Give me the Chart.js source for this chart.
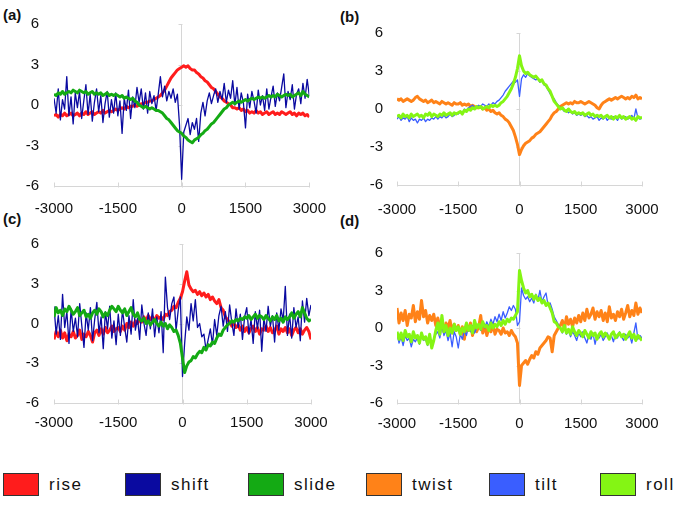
<!DOCTYPE html>
<html>
<head>
<meta charset="utf-8">
<script src="https://cdn.jsdelivr.net/npm/chart.js@4.4.0/dist/chart.umd.min.js"></script>
<style>
  body { margin: 0; background: #fff; width: 685px; height: 513px; position: relative; overflow: hidden; font-family: "Liberation Sans", Arial, sans-serif; }
  canvas { position: absolute; }
  .tag { position: absolute; font: bold 15px "Liberation Sans", Arial, sans-serif; color: #111; line-height: 18px; }
  .key { position: absolute; top: 473px; height: 23px; display: flex; align-items: center; }
  .key i { display: block; width: 34px; height: 21px; border: 1px solid #333; margin-right: 10px; }
  .key span { font-size: 17px; letter-spacing: 1.5px; color: #111; }
</style>
</head>
<body>
<div class="tag" style="left:3px;top:6px">(a)</div>
<div class="tag" style="left:340px;top:8px">(b)</div>
<div class="tag" style="left:3px;top:210px">(c)</div>
<div class="tag" style="left:340px;top:212px">(d)</div>
<canvas id="pa" width="340" height="220" style="left:0;top:0"></canvas>
<canvas id="pb" width="345" height="230" style="left:340px;top:0"></canvas>
<canvas id="pc" width="340" height="215" style="left:0;top:220px"></canvas>
<canvas id="pd" width="345" height="210" style="left:340px;top:230px"></canvas>
<div id="legend"></div>
<script>
// distance from centre, bp (step 50)
const positions = [];
for (let p = -3000; p <= 3000; p += 50) positions.push(p);
const xTicks = [-3000, -1500, 0, 1500, 3000];
const yTicks = [-6, -3, 0, 3, 6];

// panel (a)
const riseA = [
  -0.8, -0.7, -0.9, -0.7, -0.8, -0.6, -0.8, -0.7, -0.6, -0.8,
  -0.7, -0.6, -0.8, -0.6, -0.7, -0.5, -0.7, -0.6, -0.5, -0.7,
  -0.6, -0.5, -0.6, -0.4, -0.6, -0.5, -0.4, -0.5, -0.4, -0.3,
  -0.4, -0.3, -0.2, -0.3, -0.1, -0.2, -0.1, -0.1, 0.0, -0.1,
  0.0, 0.1, 0.1, 0.2, 0.2, 0.3, 0.3, 0.4, 0.5, 0.6,
  0.7, 0.9, 1.1, 1.4, 1.7, 2.0, 2.2, 2.4, 2.6, 2.7,
  2.8, 2.9, 2.8, 2.9, 2.7, 2.6, 2.6, 2.4, 2.3, 2.1,
  2.0, 1.8, 1.7, 1.5, 1.3, 1.2, 1.0, 0.8, 0.6, 0.5,
  0.3, 0.2, 0.1, 0.0, -0.2, -0.2, -0.3, -0.2, -0.4, -0.3,
  -0.5, -0.4, -0.6, -0.5, -0.6, -0.4, -0.6, -0.5, -0.7, -0.6,
  -0.5, -0.7, -0.6, -0.5, -0.7, -0.6, -0.7, -0.5, -0.6, -0.7,
  -0.6, -0.5, -0.7, -0.6, -0.8, -0.6, -0.7, -0.6, -0.8, -0.7,
  -0.9
];
const shiftA = [
  0.5, -0.6, 1.2, -1.1, 0.4, -0.3, 2.1, -0.8, 0.6, -1.4,
  0.9, -0.2, 1.0, -1.0, 0.3, 1.5, -0.7, 0.8, -1.2, 0.2,
  1.2, -0.5, 0.7, -1.3, 0.1, 1.0, -0.9, 0.4, -0.6, 0.9,
  -0.8, 0.3, -2.1, 0.5, -0.4, 1.1, -1.0, 0.6, -0.2, 1.3,
  0.2, 1.2, -0.3, 0.9, -0.6, 1.0, 0.1, 0.7, -0.4, 0.8,
  2.1, 0.6, 1.4, 0.3, 1.0, 0.5, 1.2, 0.2, 0.8, -1.5,
  -5.5, -2.0, -1.5, -1.0, -2.2, -1.3, -1.8, -1.0, -2.7, -0.6,
  0.2, -0.8, 0.3, 0.9, 0.1, 0.7, 1.2, 0.2, 1.0, 0.4,
  1.6, 0.2, 1.1, 0.5, 1.8, 0.0, 1.3, -0.3, 0.9, 0.2,
  -1.7, 0.8, -0.2, 1.0, 0.3, -0.6, 1.1, 0.0, 0.7, -0.4,
  1.2, -0.3, 0.6, 1.4, -0.1, 0.9, 0.3, 1.3, 2.3, -0.2,
  1.0, 0.4, 1.5, -0.3, 0.8, 1.2, 0.1, 1.6, 0.5, 1.9,
  0.7
];
const slideA = [
  0.8, 0.7, 0.9, 0.8, 1.0, 0.8, 0.9, 1.0, 0.9, 1.1,
  1.0, 0.9, 1.1, 1.0, 0.9, 1.0, 0.8, 0.9, 1.0, 0.8,
  0.9, 0.8, 0.9, 0.7, 0.8, 0.9, 0.7, 0.8, 0.7, 0.8,
  0.7, 0.6, 0.7, 0.5, 0.6, 0.5, 0.4, 0.5, 0.3, 0.2,
  0.0, -0.1, -0.2, -0.1, -0.2, -0.3, -0.2, -0.3, -0.4, -0.4,
  -0.5, -0.6, -0.8, -1.0, -1.1, -1.3, -1.5, -1.7, -1.9, -2.0,
  -2.1, -2.3, -2.4, -2.6, -2.7, -2.8, -2.6, -2.5, -2.4, -2.2,
  -2.1, -1.9, -1.8, -1.6, -1.4, -1.3, -1.1, -0.9, -0.7, -0.5,
  -0.3, -0.2, 0.0, 0.1, 0.2, 0.1, 0.2, 0.3, 0.2, 0.3,
  0.4, 0.3, 0.4, 0.5, 0.4, 0.5, 0.6, 0.5, 0.6, 0.5,
  0.6, 0.7, 0.6, 0.7, 0.6, 0.8, 0.7, 0.6, 0.7, 0.8,
  0.7, 0.8, 0.6, 0.7, 0.8, 0.9, 0.7, 1.0, 0.8, 0.7,
  0.6
];

// panel (b)
const twistB = [
  0.8, 0.7, 0.8, 0.6, 0.7, 0.8, 0.7, 0.6, 0.7, 0.9,
  1.0, 0.8, 0.7, 0.6, 0.7, 0.5, 0.6, 0.7, 0.5, 0.6,
  0.5, 0.4, 0.6, 0.5, 0.4, 0.5, 0.4, 0.3, 0.5, 0.4,
  0.4, 0.5, 0.3, 0.4, 0.3, 0.4, 0.2, 0.3, 0.2, 0.1,
  0.1, 0.2, 0.0, 0.1, -0.1, 0.0, -0.2, -0.1, -0.3, -0.4,
  -0.3, -0.5, -0.6, -0.8, -0.9, -1.1, -1.4, -1.7, -2.2, -2.8,
  -3.6, -3.2, -2.9, -2.7, -2.6, -2.5, -2.3, -2.2, -2.0, -1.9,
  -1.8, -1.6, -1.4, -1.2, -1.0, -0.8, -0.5, -0.3, -0.2, 0.0,
  0.2, 0.3, 0.4, 0.5, 0.4, 0.5, 0.4, 0.6, 0.5, 0.5,
  0.6, 0.5, 0.4, 0.5, 0.6, 0.5, 0.4, 0.3, 0.1, 0.0,
  0.3, 0.5, 0.6, 0.7, 0.8, 0.7, 0.8, 0.9, 0.8, 0.9,
  1.0, 0.9, 0.8, 0.9, 0.8, 1.0, 0.9, 1.1, 0.8, 0.9,
  0.8
];
const tiltB = [
  -0.8, -0.6, -0.9, -0.7, -0.8, -0.6, -1.0, -0.7, -0.9, -0.8,
  -1.1, -0.8, -0.9, -0.7, -1.0, -0.8, -0.9, -0.7, -0.8, -0.6,
  -0.8, -0.6, -0.7, -0.5, -0.7, -0.6, -0.4, -0.6, -0.5, -0.3,
  -0.4, -0.2, -0.3, 0.0, -0.1, 0.1, 0.2, 0.3, 0.1, 0.2,
  0.3, 0.2, 0.4, 0.3, 0.2, 0.4, 0.3, 0.5, 0.4, 0.6,
  0.7, 0.9, 1.1, 1.4, 1.6, 1.8, 2.0, 2.2, 2.1, 2.3,
  1.0, 2.4, 2.7, 2.5, 2.8, 2.6, 2.5, 2.4, 2.3, 2.4,
  2.1, 2.3, 1.9, 1.8, 1.5, 1.2, 1.0, 0.8, 0.5, 0.3,
  0.1, 0.0, -0.2, -0.1, -0.3, -0.2, -0.4, -0.3, -0.5, -0.4,
  -0.5, -0.4, -0.6, -0.5, -0.7, -0.6, -0.8, -0.7, -0.6, -0.9,
  -0.7, -0.8, -0.6, -0.9, -0.7, -0.8, -0.6, -0.7, -0.9, -0.6,
  -0.8, -0.7, -0.6, -0.8, -0.7, -0.5, -0.8, 0.0, -0.7, -0.8,
  -0.7
];
const rollB = [
  -0.6, -0.5, -0.7, -0.4, -0.6, -0.5, -0.7, -0.4, -0.6, -0.5,
  -0.4, -0.6, -0.5, -0.7, -0.4, -0.5, -0.3, -0.6, -0.4, -0.5,
  -0.6, -0.4, -0.5, -0.3, -0.5, -0.4, -0.3, -0.5, -0.3, -0.4,
  -0.3, -0.2, -0.4, -0.1, -0.2, 0.0, -0.1, 0.1, 0.0, 0.2,
  0.1, 0.2, 0.0, 0.1, 0.2, 0.1, 0.3, 0.2, 0.3, 0.2,
  0.3, 0.5, 0.6, 0.8, 1.0, 1.3, 1.6, 2.0, 2.5, 3.2,
  4.2, 3.4, 3.0, 2.8, 2.9, 2.7, 2.6, 2.5, 2.6, 2.4,
  2.2, 2.3, 2.0, 1.9, 1.6, 1.4, 1.0, 0.6, 0.4, 0.2,
  0.0, 0.1, -0.1, -0.2, 0.0, -0.2, -0.3, -0.2, -0.4, -0.3,
  -0.4, -0.3, -0.5, -0.4, -0.3, -0.5, -0.4, -0.6, -0.5, -0.6,
  -0.5, -0.7, -0.6, -0.5, -0.7, -0.6, -0.8, -0.6, -0.7, -0.5,
  -0.7, -0.6, -0.8, -0.7, -0.6, -0.8, -0.7, -0.9, -0.6, -0.7,
  -0.7
];

// panel (c)
const riseC = [
  -1.2, -0.6, -1.0, -0.5, -1.1, -0.7, -1.3, -0.8, -1.0, -0.6,
  -1.1, -0.9, -0.5, -1.2, -0.8, -1.0, -0.6, -0.9, -1.4, -0.7,
  -0.5, -0.9, -0.4, -0.8, -0.3, -0.7, -0.5, -0.2, -0.6, -0.4,
  -0.3, -0.6, -0.2, -0.5, 0.0, -0.3, 0.1, -0.2, 0.2, 0.0,
  0.3, 0.1, 0.5, 0.2, 0.6, 0.3, 0.5, 0.2, 0.6, 0.4,
  0.5, 0.3, 0.7, 0.6, 0.9, 1.0, 1.3, 1.2, 1.6, 1.9,
  2.4, 3.2, 3.9, 2.9, 2.6, 2.4, 2.5, 2.2, 2.4, 2.1,
  2.3, 2.0, 2.2, 1.8, 2.0, 1.7, 1.5, 1.8, 1.2, 1.0,
  0.5, 0.3, 0.1, -0.2, 0.0, -0.3, -0.1, -0.5, -0.2, -0.6,
  -0.3, -0.7, -0.4, -0.2, -0.6, -0.3, -0.8, -0.4, -0.5, -0.2,
  -0.6, -0.3, -0.7, -0.5, -0.2, -0.8, -0.4, -0.6, -0.3, -0.7,
  -0.4, -0.9, -0.5, -0.3, -0.7, -0.4, -0.8, -0.5, -0.3, -0.6,
  -1.2
];
const shiftC = [
  1.3, -0.8, 0.6, -1.2, 2.2, -0.3, 0.9, -1.5, 1.1, -0.6,
  0.4, -1.0, 1.5, -0.2, -1.8, 0.8, -0.5, 1.2, -1.3, 0.3,
  1.6, -0.7, 0.5, -1.9, 0.9, -0.4, 1.3, -1.1, 0.2, -1.6,
  0.7, -0.9, 1.0, -0.3, -1.4, 0.6, -0.8, 1.8, -0.5, 0.4,
  -1.2, 1.4, 0.0, -0.9, 0.8, -0.4, 1.1, -1.0, 0.5, -0.7,
  0.9, -2.2, 3.5, 1.2, 0.3, 1.5, 2.0, -0.5, 1.0, 2.0,
  -4.0, -1.5, 0.5, -0.5, 1.5, 0.2, 1.8, -0.3, 0.0, -1.0,
  -0.8, -2.0, -1.2, -0.4, -1.6, 0.3, -0.9, 0.6, 1.3, -0.2,
  0.9, -0.6, 1.4, 0.1, -0.9, 1.1, -0.3, 0.7, -1.2, 0.5,
  1.2, -0.8, 0.3, -1.5, 0.9, -0.4, 1.0, -2.1, 0.4, -0.6,
  1.3, -0.2, 0.6, -1.4, 0.8, -0.5, 1.1, 0.2, 2.8, -0.9,
  0.7, -1.1, 1.2, -0.3, 0.5, -1.3, 1.7, 0.1, 1.9, 0.6,
  1.4
];
const slideC = [
  0.5, 1.2, 0.8, 1.0, 0.6, 1.1, 0.9, 1.3, 1.0, 0.7,
  0.9, 1.2, 0.6, 0.8, 1.0, 0.5, 0.7, 0.4, 0.8, 1.0,
  0.7, 1.1, 0.9, 0.5, 0.8, 0.6, 1.0, 1.3, 1.1, 0.9,
  1.3, 1.0, 0.8, 1.1, 0.6, 0.9, 1.2, 0.7, 0.5, 0.8,
  0.3, 0.2, 0.4, 0.0, 0.2, -0.1, 0.1, 0.3, 0.0, -0.2,
  0.1, -0.2, 0.0, -0.4, -0.1, -0.3, -0.6, -0.5, -0.9, -1.5,
  -2.6, -3.7, -3.2, -2.9, -2.8, -2.5, -2.6, -2.3, -2.1, -2.2,
  -1.8, -2.0, -1.6, -1.7, -1.4, -1.5, -1.1, -0.8, -0.9, -0.5,
  -0.3, -0.1, 0.0, 0.2, 0.1, 0.3, 0.2, 0.4, 0.3, 0.5,
  0.4, 0.6, 0.3, 0.5, 0.7, 0.4, 0.6, 0.5, 0.3, 0.6,
  0.4, 0.2, 0.5, 0.3, 0.6, 0.2, 0.4, 0.1, 0.5, 0.3,
  0.5, 0.8, 0.4, 0.7, 0.9, 0.5, 1.2, 0.8, 0.4, 0.2,
  0.3
];

// panel (d)
const twistD = [
  1.6, 0.4, 1.2, 0.6, 1.4, 0.2, 1.1, 0.8, 1.8, 0.5,
  1.3, 0.7, 2.2, 0.9, 1.4, 0.4, 1.0, 0.6, 1.1, 0.2,
  0.8, 0.1, 0.5, -0.3, 0.4, 0.0, 0.6, -0.4, 0.3, -0.2,
  0.2, -0.5, 0.1, -0.9, 0.3, -0.2, 0.4, -0.6, 0.2, -0.3,
  0.1, 1.0, -0.4, 0.2, -0.6, 0.0, -0.3, 0.3, -0.5, -0.1,
  -0.2, -0.5, 0.0, -0.4, -0.3, -0.6, -0.2, -0.5, -0.7, -1.2,
  -4.6, -3.0, -2.8, -2.6, -2.9, -2.5, -2.2, -2.4, -1.9, -2.1,
  -1.6, -1.4, -1.2, -1.0, -0.7, -0.8, -1.9, -0.6, -0.3, 0.0,
  0.2, 0.6, -0.1, 0.9, 0.3, 0.7, 0.1, 0.8, 0.4, 1.0,
  0.5, 1.2, 0.6, 1.5, 0.8, 1.1, 1.6, 0.7, 1.3, 0.9,
  1.4, 0.6, 1.2, 0.5, 1.7, 0.8, 1.1, 0.6, 1.3, 0.9,
  1.5, 0.7, 1.2, 1.8, 0.9, 1.4, 1.0, 2.0, 1.1, 1.6,
  1.2
];
const tiltD = [
  -0.5, -1.2, -0.7, -1.4, -0.6, -1.0, -0.8, -1.5, -0.9, -1.1,
  -0.8, -1.3, -0.6, -1.0, -0.9, -1.4, -0.7, -1.2, -0.9, -0.5,
  -0.3, -0.8, 0.2, -0.6, -0.2, -1.0, -0.4, -1.5, -0.3, -0.7,
  -1.6, -0.5, -0.9, -0.2, -0.6, 0.1, -0.3, 0.2, -0.4, 0.0,
  0.2, -0.2, 0.4, 0.0, 0.5, 0.1, 0.7, 0.3, 0.9, 0.5,
  1.1, 0.6, 1.3, 0.8, 1.2, 1.7, 1.4, 1.8, 1.5, 0.2,
  0.5, 3.2, 2.6, 2.3, 2.5, 2.1, 2.4, 2.0, 2.7, 2.2,
  3.0, 2.1, 2.5, 2.8, 1.8, 2.0, 1.5, 0.9, 0.6, 0.3,
  0.0, -0.4, 0.1, -0.5, -0.2, -0.7, -0.3, -0.6, -1.0, -0.4,
  -0.7, -0.3, -0.8, -1.2, -0.5, -0.9, -0.4, -1.3, -0.6, -0.8,
  -0.5, -1.0, -0.7, -0.4, -0.9, -0.6, -1.1, -0.5, -0.8, -0.3,
  -0.7, -1.0, -0.5, -0.8, -0.6, -1.2, -0.4, 0.4, -0.9, -0.6,
  -0.8
];
const rollD = [
  -0.3, -0.9, -0.4, -1.0, -0.2, -0.7, -0.5, -1.1, -0.3, -0.8,
  -0.6, -1.2, -0.4, -0.9, -0.7, -1.3, -0.5, -1.6, -1.0, -0.2,
  0.4, -0.5, 1.0, -0.3, 0.2, -0.6, 0.0, -0.4, 0.3, -0.2,
  0.1, -0.5, 0.0, -0.3, 0.4, -0.2, 0.2, -0.4, 0.6, 0.0,
  0.3, -0.1, 0.5, 0.1, 0.2, -0.2, 0.4, 0.0, 0.3, 0.1,
  0.5, 0.2, 0.6, 0.3, 0.7, 0.5, 0.8, 0.7, 1.0, 1.3,
  4.6, 3.8, 3.2, 2.8, 3.0, 2.5, 2.7, 2.3, 2.6, 2.2,
  2.4, 2.0, 2.2, 1.8, 2.0, 1.6, 1.2, 0.5, 0.4, 0.1,
  0.0, -0.3, 0.2, -0.4, -0.1, -0.5, 0.1, -0.3, -0.6, -0.2,
  -0.4, -0.7, -0.2, -0.5, -0.8, -0.3, -0.6, -0.4, -0.9, -0.5,
  -0.3, -0.7, -0.4, -0.6, -0.9, -0.5, -0.3, -0.8, -0.6, -0.4,
  -0.7, -0.5, -0.9, -0.6, -0.3, -0.8, -0.5, -1.0, -0.6, -0.8,
  -1.0
];

const colors = {
  rise: '#ff1c1c', shift: '#0a0aa0', slide: '#14aa14',
  twist: '#ff8218', tilt: '#3a5eff', roll: '#84f514'
};
const legendNames = ['rise', 'shift', 'slide', 'twist', 'tilt', 'roll'];
const thin = { shift: true, tilt: true };
const axisGrey = '#d6d6d6';

function series(name, values) {
  return {
    label: name,
    data: positions.map((p, i) => ({ x: p, y: values[i] })),
    borderColor: colors[name],
    borderWidth: thin[name] ? 1.3 : 3,
    pointRadius: 0,
    tension: 0,
    borderJoinStyle: 'round'
  };
}

// short tick marks: up from the bottom line, left of the zero line
const tickMarks = {
  id: 'tickMarks',
  beforeDatasetsDraw(chart) {
    const { ctx, scales: { x, y } } = chart;
    ctx.save();
    ctx.strokeStyle = axisGrey;
    ctx.lineWidth = 1;
    ctx.beginPath();
    const yb = Math.round(y.getPixelForValue(-6)) + 0.5;
    xTicks.forEach(v => {
      const px = Math.round(x.getPixelForValue(v)) + 0.5;
      ctx.moveTo(px, yb + 1);
      ctx.lineTo(px, yb - 4);
    });
    const x0 = Math.round(x.getPixelForValue(0)) + 0.5;
    yTicks.forEach(v => {
      const py = Math.round(y.getPixelForValue(v)) + 0.5;
      ctx.moveTo(x0, py);
      ctx.lineTo(x0 - 4, py);
    });
    ctx.stroke();
    ctx.restore();
  }
};

function panel(id, sets, lay) {
  const tickFont = { family: '"Liberation Sans", Arial, sans-serif', size: 15 };
  new Chart(document.getElementById(id), {
    type: 'line',
    data: { datasets: sets },
    plugins: [tickMarks],
    options: {
      responsive: false,
      animation: false,
      layout: { padding: { left: 0, right: lay.padRight, top: lay.padTop, bottom: 0 } },
      plugins: { legend: { display: false }, tooltip: { enabled: false } },
      scales: {
        x: {
          type: 'linear', min: -3000, max: 3000,
          afterBuildTicks: s => { s.ticks = xTicks.map(v => ({ value: v })); },
          afterFit: s => { s.height = lay.xH; },
          grid: {
            drawTicks: false,
            color: c => (c.tick && c.tick.value === 0 ? axisGrey : 'rgba(0,0,0,0)')
          },
          border: { display: true, color: axisGrey },
          ticks: { font: tickFont, color: '#111', padding: lay.xPad, maxRotation: 0, callback: v => String(v) }
        },
        y: {
          min: -6, max: 6,
          afterBuildTicks: s => { s.ticks = yTicks.map(v => ({ value: v })); },
          afterFit: s => { s.width = lay.yW; },
          grid: { display: false, drawTicks: false },
          border: { display: false },
          ticks: { font: tickFont, color: '#111', padding: lay.yPad, callback: v => String(v) }
        }
      }
    }
  });
}

// first dataset is painted on top
panel('pa', [series('slide', slideA), series('shift', shiftA), series('rise', riseA)],
  { yW: 54, padRight: 29, padTop: 23, xH: 34, yPad: 15, xPad: 14 });
panel('pb', [series('roll', rollB), series('tilt', tiltB), series('twist', twistB)],
  { yW: 57, padRight: 43, padTop: 33, xH: 45, yPad: 14, xPad: 16 });
panel('pc', [series('slide', slideC), series('shift', shiftC), series('rise', riseC)],
  { yW: 54, padRight: 29, padTop: 18, xH: 32, yPad: 15, xPad: 11 });
panel('pd', [series('roll', rollD), series('tilt', tiltD), series('twist', twistD)],
  { yW: 57, padRight: 43, padTop: 18, xH: 37, yPad: 14, xPad: 12 });

// legend row
const keyLeft = [3, 125, 248, 366, 489, 600];
const legend = document.getElementById('legend');
legendNames.forEach((n, i) => {
  const d = document.createElement('div');
  d.className = 'key';
  d.style.left = keyLeft[i] + 'px';
  d.innerHTML = '<i style="background:' + colors[n] + '"></i><span>' + n + '</span>';
  legend.appendChild(d);
});
</script>
</body>
</html>
